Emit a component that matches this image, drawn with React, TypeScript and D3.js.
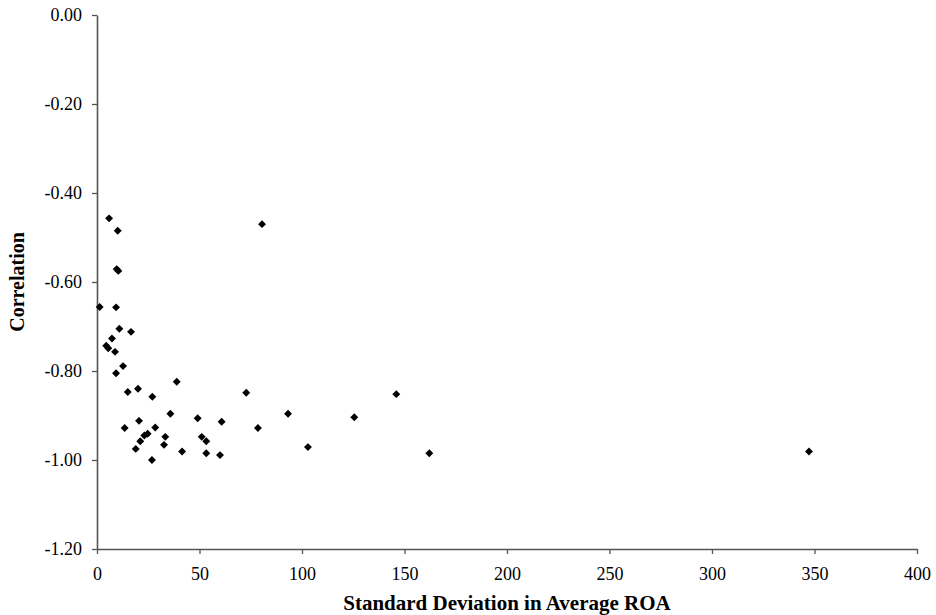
import * as d3 from 'd3';
import { useEffect, useRef } from 'react';

const WIDTH = 936;
const HEIGHT = 615;

// standard deviation in average ROA (x) and correlation (y)
const sdRoa = [
    5.9, 10.1, 9.6, 10.4, 80.5, 1.3, 9.3, 10.9, 16.6, 7.3, 4.5, 5.5, 8.8, 12.7, 9.3,
    38.9, 15.0, 20.0, 72.8, 27.0, 35.8, 20.5, 49.1, 60.8, 13.5, 28.4, 78.5, 23.1, 24.7,
    33.3, 51.1, 53.3, 21.1, 18.9, 32.7, 41.5, 53.3, 60.0, 26.8, 93.2, 125.5, 146.0,
    102.9, 162.1, 347.3,
];
const correlation = [
    -0.457, -0.485, -0.571, -0.575, -0.47, -0.656, -0.657, -0.705, -0.712, -0.727,
    -0.743, -0.749, -0.757, -0.789, -0.805, -0.824, -0.847, -0.84, -0.849, -0.858,
    -0.896, -0.912, -0.906, -0.914, -0.928, -0.927, -0.928, -0.945, -0.941, -0.948,
    -0.948, -0.958, -0.958, -0.975, -0.966, -0.981, -0.985, -0.989, -1.0, -0.896,
    -0.904, -0.852, -0.971, -0.985, -0.981,
];

const xTicks = [0, 50, 100, 150, 200, 250, 300, 350, 400];
const yTicks = [0, -0.2, -0.4, -0.6, -0.8, -1.0, -1.2];

const xTitle = 'Standard Deviation in Average ROA';
const yTitle = 'Correlation';

const FONT = '"Liberation Serif", "Times New Roman", serif';

// Excel-style labels: plain hyphen for the sign, two decimals
const fmtCorr = (v: number) => (Math.abs(v) < 1e-9 ? 0 : v).toFixed(2);

export default function App() {
    const svgRef = useRef<SVGSVGElement | null>(null);

    useEffect(() => {
        if (!svgRef.current) {
            return;
        }
        const svg = d3.select(svgRef.current);
        svg.selectAll('*').remove();

        const margin = { top: 15, right: 19, bottom: 66, left: 97 };
        const innerW = WIDTH - margin.left - margin.right;
        const innerH = HEIGHT - margin.top - margin.bottom;

        const x = d3.scaleLinear().domain([0, 400]).range([0, innerW]);
        const y = d3.scaleLinear().domain([-1.2, 0]).range([innerH, 0]);

        const g = svg
            .append('g')
            .attr('transform', `translate(${margin.left},${margin.top})`);

        const xAxis = g
            .append('g')
            .attr('transform', `translate(0,${innerH})`)
            .call(
                d3
                    .axisBottom(x)
                    .tickValues(xTicks)
                    .tickSize(5)
                    .tickSizeOuter(0)
                    .tickPadding(13)
                    .tickFormat((d) => String(d)),
            );

        const yAxis = g.append('g').call(
            d3
                .axisLeft(y)
                .tickValues(yTicks)
                .tickSize(5)
                .tickSizeOuter(0)
                .tickPadding(10)
                .tickFormat((d) => fmtCorr(+d)),
        );

        for (const axis of [xAxis, yAxis]) {
            axis.select('.domain').attr('stroke', '#555').attr('stroke-width', 1.6);
            axis.selectAll('.tick line').attr('stroke', '#555').attr('stroke-width', 1.3);
            axis
                .selectAll('.tick text')
                .attr('fill', '#000')
                .attr('font-family', FONT)
                .attr('font-size', '18px');
        }

        const points = sdRoa.map((v, i) => ({ sd: v, corr: correlation[i] }));
        const diamond = d3.symbol().type(d3.symbolDiamond2).size(40);

        g.append('g')
            .selectAll('path')
            .data(points)
            .join('path')
            .attr('transform', (d) => `translate(${x(d.sd)},${y(d.corr)})`)
            .attr('d', diamond)
            .attr('fill', '#000');

        svg.append('text')
            .attr('x', margin.left + innerW / 2)
            .attr('y', HEIGHT - 5)
            .attr('text-anchor', 'middle')
            .attr('font-family', FONT)
            .attr('font-size', '21px')
            .attr('font-weight', 700)
            .text(xTitle);

        svg.append('text')
            .attr('transform', `translate(24,${margin.top + innerH / 2}) rotate(-90)`)
            .attr('text-anchor', 'middle')
            .attr('font-family', FONT)
            .attr('font-size', '20px')
            .attr('font-weight', 700)
            .text(yTitle);
    }, []);

    return (
        <svg
            ref={svgRef}
            width={WIDTH}
            height={HEIGHT}
            style={{ position: 'absolute', left: 0, top: 0, display: 'block', background: '#fff' }}
        />
    );
}
